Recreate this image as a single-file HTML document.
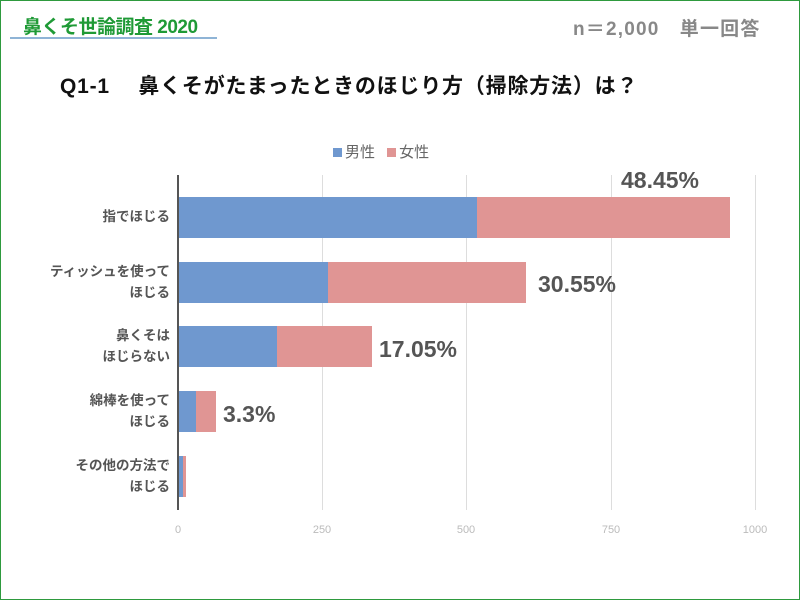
<!DOCTYPE html>
<html><head><meta charset="utf-8"><style>
body{margin:0;width:800px;height:600px;overflow:hidden;background:#fff;font-family:"Liberation Sans","Noto Sans CJK JP",sans-serif}
.frame{position:absolute;left:0;top:0;width:798px;height:598px;border:1px solid #2e9a3e}
.a{position:absolute;white-space:nowrap}
.g{position:absolute;top:175px;height:335px;width:1px;background:#ddd}
.b{position:absolute;height:41px}
.m{background:#6f98cf}.f{background:#e09594}
.lab{position:absolute;right:630px;text-align:right;font-size:13.5px;font-weight:bold;color:#555;line-height:21px}
.val{position:absolute;font-size:23px;font-weight:bold;color:#555}
.t{position:absolute;top:524px;font-size:11px;color:#bbb;transform:translateX(-50%)}
</style></head><body>
<div class="frame"></div>
<div class="a" style="left:23px;top:12px;font-size:19px;font-weight:bold;color:#1f9a36;letter-spacing:-0.5px">鼻くそ世論調査 2020</div>
<div class="a" style="left:10px;top:37px;width:207px;height:2px;background:#8fb4d6"></div>
<div class="a" style="left:573px;top:14px;font-size:19px;font-weight:bold;color:#888;letter-spacing:1.2px">n＝2,000　単一回答</div>
<div class="a" style="left:60px;top:70px;font-size:21px;font-weight:bold;color:#111;letter-spacing:0.8px">Q1-1　 鼻くそがたまったときのほじり方（掃除方法）は？</div>
<div class="a" style="left:333px;top:141px;font-size:15px;color:#666"><span style="display:inline-block;width:9px;height:9px;background:#6f98cf;margin-right:3px"></span>男性 <span style="display:inline-block;width:9px;height:9px;background:#e09594;margin:0 3px 0 8px"></span>女性</div>
<div class="g" style="left:322px"></div><div class="g" style="left:466px"></div><div class="g" style="left:611px"></div><div class="g" style="left:755px"></div>
<div class="a" style="left:177px;top:175px;width:2px;height:335px;background:#555"></div>
<div class="t" style="left:178px">0</div><div class="t" style="left:322px">250</div><div class="t" style="left:466px">500</div><div class="t" style="left:611px">750</div><div class="t" style="left:755px">1000</div>
<div class="b m" style="left:179px;top:197px;width:298px"></div><div class="b f" style="left:477px;top:197px;width:253px"></div>
<div class="b m" style="left:179px;top:262px;width:149px"></div><div class="b f" style="left:328px;top:262px;width:198px"></div>
<div class="b m" style="left:179px;top:326px;width:98px"></div><div class="b f" style="left:277px;top:326px;width:95px"></div>
<div class="b m" style="left:179px;top:391px;width:17px"></div><div class="b f" style="left:196px;top:391px;width:20px"></div>
<div class="b m" style="left:179px;top:456px;width:4px"></div><div class="b f" style="left:183px;top:456px;width:3px"></div>
<div class="lab" style="top:206px">指でほじる</div>
<div class="lab" style="top:261px">ティッシュを使って<br>ほじる</div>
<div class="lab" style="top:325px">鼻くそは<br>ほじらない</div>
<div class="lab" style="top:390px">綿棒を使って<br>ほじる</div>
<div class="lab" style="top:455px">その他の方法で<br>ほじる</div>
<div class="val" style="left:621px;top:167px">48.45%</div>
<div class="val" style="left:538px;top:271px">30.55%</div>
<div class="val" style="left:379px;top:336px">17.05%</div>
<div class="val" style="left:223px;top:401px">3.3%</div>
</body></html>
